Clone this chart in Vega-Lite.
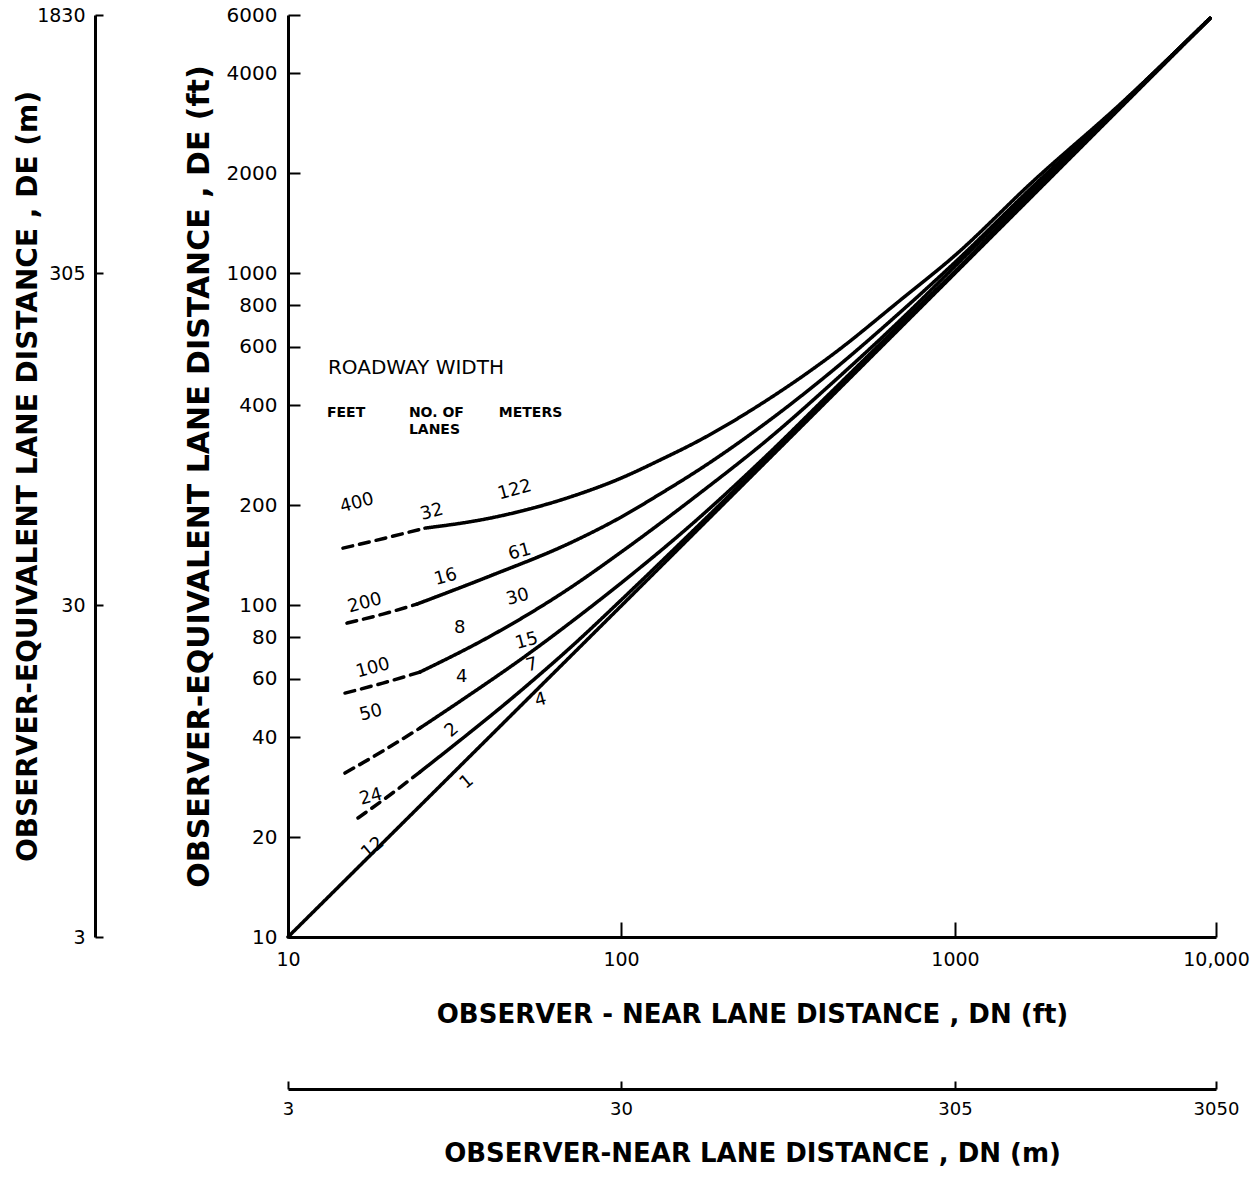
{
  "$schema": "https://vega.github.io/schema/vega-lite/v6.json",
  "autosize": "none",
  "padding": {"left": 288, "top": 15, "right": 40, "bottom": 246},
  "width": 928,
  "height": 922,
  "background": "white",
  "config": {
    "view": {"stroke": null},
    "font": "DejaVu Sans",
    "axis": {
      "grid": false,
      "domainColor": "black",
      "domainWidth": 3,
      "tickColor": "black",
      "tickWidth": 2,
      "labelColor": "black",
      "titleColor": "black",
      "labelFont": "DejaVu Sans",
      "titleFont": "DejaVu Sans",
      "titleFontWeight": "bold"
    }
  },
  "datasets": {
    "curves": [
      {"w": "400", "part": "dashed", "x": 14.62, "y": 148.5},
      {"w": "400", "part": "dashed", "x": 19.54, "y": 159.1},
      {"w": "400", "part": "dashed", "x": 25.77, "y": 170.6},
      {"w": "400", "part": "solid", "x": 25.77, "y": 170.6},
      {"w": "400", "part": "solid", "x": 40.36, "y": 182.8},
      {"w": "400", "part": "solid", "x": 70.15, "y": 211.5},
      {"w": "400", "part": "solid", "x": 100, "y": 241.3},
      {"w": "400", "part": "solid", "x": 130.6, "y": 273.4},
      {"w": "400", "part": "solid", "x": 172.2, "y": 314.1},
      {"w": "400", "part": "solid", "x": 273.5, "y": 414.5},
      {"w": "400", "part": "solid", "x": 431.5, "y": 570.2},
      {"w": "400", "part": "solid", "x": 685.5, "y": 829.3},
      {"w": "400", "part": "solid", "x": 1000, "y": 1132},
      {"w": "400", "part": "solid", "x": 1991, "y": 1893},
      {"w": "400", "part": "solid", "x": 4287, "y": 3228},
      {"w": "400", "part": "solid", "x": 9486, "y": 5864},

      {"w": "200", "part": "dashed", "x": 15.03, "y": 88.27},
      {"w": "200", "part": "dashed", "x": 19.27, "y": 93.96},
      {"w": "200", "part": "dashed", "x": 24.38, "y": 100.7},
      {"w": "200", "part": "solid", "x": 24.38, "y": 100.7},
      {"w": "200", "part": "solid", "x": 40.36, "y": 122.3},
      {"w": "200", "part": "solid", "x": 70.15, "y": 153.7},
      {"w": "200", "part": "solid", "x": 100, "y": 184.1},
      {"w": "200", "part": "solid", "x": 130.6, "y": 215.9},
      {"w": "200", "part": "solid", "x": 172.2, "y": 256.8},
      {"w": "200", "part": "solid", "x": 273.5, "y": 355.8},
      {"w": "200", "part": "solid", "x": 431.5, "y": 510.3},
      {"w": "200", "part": "solid", "x": 685.5, "y": 763.0},
      {"w": "200", "part": "solid", "x": 1000, "y": 1079},
      {"w": "200", "part": "solid", "x": 1991, "y": 1828},
      {"w": "200", "part": "solid", "x": 4287, "y": 3206},
      {"w": "200", "part": "solid", "x": 9486, "y": 5864},

      {"w": "100", "part": "dashed", "x": 14.83, "y": 54.32},
      {"w": "100", "part": "dashed", "x": 19.27, "y": 58.22},
      {"w": "100", "part": "dashed", "x": 24.89, "y": 62.84},
      {"w": "100", "part": "solid", "x": 24.89, "y": 62.84},
      {"w": "100", "part": "solid", "x": 39.54, "y": 79.55},
      {"w": "100", "part": "solid", "x": 70.15, "y": 112.5},
      {"w": "100", "part": "solid", "x": 100, "y": 144.4},
      {"w": "100", "part": "solid", "x": 172.2, "y": 217.4},
      {"w": "100", "part": "solid", "x": 273.5, "y": 314.1},
      {"w": "100", "part": "solid", "x": 431.5, "y": 469.6},
      {"w": "100", "part": "solid", "x": 685.5, "y": 721.9},
      {"w": "100", "part": "solid", "x": 1000, "y": 1050},
      {"w": "100", "part": "solid", "x": 1991, "y": 1803},
      {"w": "100", "part": "solid", "x": 4287, "y": 3206},
      {"w": "100", "part": "solid", "x": 9486, "y": 5864},

      {"w": "50", "part": "dashed", "x": 14.83, "y": 31.19},
      {"w": "50", "part": "dashed", "x": 19.27, "y": 36.34},
      {"w": "50", "part": "dashed", "x": 24.89, "y": 42.6},
      {"w": "50", "part": "solid", "x": 24.89, "y": 42.6},
      {"w": "50", "part": "solid", "x": 33.27, "y": 51.75},
      {"w": "50", "part": "solid", "x": 52.12, "y": 70.7},
      {"w": "50", "part": "solid", "x": 70.15, "y": 88.27},
      {"w": "50", "part": "solid", "x": 100, "y": 116.5},
      {"w": "50", "part": "solid", "x": 172.2, "y": 184.1},
      {"w": "50", "part": "solid", "x": 273.5, "y": 283.0},
      {"w": "50", "part": "solid", "x": 431.5, "y": 444.2},
      {"w": "50", "part": "solid", "x": 685.5, "y": 702.3},
      {"w": "50", "part": "solid", "x": 1000, "y": 1014},
      {"w": "50", "part": "solid", "x": 1991, "y": 1766},
      {"w": "50", "part": "solid", "x": 4287, "y": 3184},
      {"w": "50", "part": "solid", "x": 9486, "y": 5864},

      {"w": "24", "part": "dashed", "x": 16.22, "y": 22.83},
      {"w": "24", "part": "dashed", "x": 20.23, "y": 26.78},
      {"w": "24", "part": "dashed", "x": 24.89, "y": 31.41},
      {"w": "24", "part": "solid", "x": 24.89, "y": 31.41},
      {"w": "24", "part": "solid", "x": 53.21, "y": 58.22},
      {"w": "24", "part": "solid", "x": 70.15, "y": 74.2},
      {"w": "24", "part": "solid", "x": 100, "y": 103.5},
      {"w": "24", "part": "solid", "x": 172.2, "y": 175.4},
      {"w": "24", "part": "solid", "x": 273.5, "y": 277.2},
      {"w": "24", "part": "solid", "x": 431.5, "y": 438.1},
      {"w": "24", "part": "solid", "x": 685.5, "y": 692.6},
      {"w": "24", "part": "solid", "x": 1000, "y": 1007},
      {"w": "24", "part": "solid", "x": 1991, "y": 1754},
      {"w": "24", "part": "solid", "x": 4287, "y": 3162},
      {"w": "24", "part": "solid", "x": 9486, "y": 5864},

      {"w": "12", "part": "solid", "x": 10, "y": 10},
      {"w": "12", "part": "solid", "x": 1000, "y": 1000},
      {"w": "12", "part": "solid", "x": 1991, "y": 1718},
      {"w": "12", "part": "solid", "x": 4287, "y": 3141},
      {"w": "12", "part": "solid", "x": 9486, "y": 5864}
    ],
    "labels": [
      {"kind": "header", "text": "ROADWAY    WIDTH", "x": 13.18, "y": 517.6},
      {"kind": "sub", "text": "FEET", "x": 13.09, "y": 378.7},
      {"kind": "sub", "text": "NO. OF", "x": 23.07, "y": 378.7},
      {"kind": "sub", "text": "LANES", "x": 23.07, "y": 336.6},
      {"kind": "sub", "text": "METERS", "x": 42.96, "y": 378.7},
      {"kind": "tilt", "text": "400", "x": 16.11, "y": 202.8},
      {"kind": "tilt", "text": "200", "x": 17.02, "y": 101.4},
      {"kind": "tilt", "text": "100", "x": 17.99, "y": 64.6},
      {"kind": "tilt", "text": "50", "x": 17.74, "y": 47.3},
      {"kind": "tilt", "text": "24", "x": 17.74, "y": 26.4},
      {"kind": "diag", "text": "12", "x": 17.99, "y": 18.54},
      {"kind": "tilt", "text": "32", "x": 27.04, "y": 190.6},
      {"kind": "tilt", "text": "16", "x": 29.78, "y": 121.4},
      {"kind": "flat", "text": "8", "x": 32.81, "y": 85.3},
      {"kind": "flat", "text": "4", "x": 33.27, "y": 60.7},
      {"kind": "diag", "text": "2", "x": 31.05, "y": 42.0},
      {"kind": "diag", "text": "1", "x": 34.43, "y": 29.3},
      {"kind": "tilt", "text": "122", "x": 47.97, "y": 222.0},
      {"kind": "tilt", "text": "61", "x": 49.66, "y": 144.5},
      {"kind": "tilt", "text": "30", "x": 48.97, "y": 105.7},
      {"kind": "tilt", "text": "15", "x": 52.12, "y": 77.9},
      {"kind": "tilt", "text": "7", "x": 54.0, "y": 65.9},
      {"kind": "tilt", "text": "4", "x": 57.4, "y": 51.7}
    ]
  },
  "resolve": {"axis": {"x": "independent", "y": "independent"}},
  "layer": [
    {
      "data": {"name": "curves"},
      "mark": {"type": "line", "color": "black", "strokeWidth": 3.5, "strokeCap": "round", "interpolate": "monotone", "clip": false},
      "encoding": {
        "x": {
          "field": "x", "type": "quantitative",
          "scale": {"type": "log", "domain": [10, 100, 1000, 10000], "range": [0, 333, 667, 928], "nice": false},
          "axis": {
            "orient": "bottom",
            "values": [10, 100, 1000, 10000],
            "labelExpr": "datum.value == 10000 ? '10,000' : format(datum.value, 'd')",
            "tickSize": -15,
            "labelFontSize": 19,
            "labelPadding": 28,
            "labelFlush": false,
            "labelOverlap": false,
            "title": "OBSERVER - NEAR   LANE   DISTANCE ,  DN  (ft)",
            "titleFontSize": 26,
            "titlePadding": 32
          }
        },
        "y": {
          "field": "y", "type": "quantitative",
          "scale": {"type": "log", "domain": [10, 6000], "nice": false},
          "axis": {
            "orient": "left",
            "values": [10, 20, 40, 60, 80, 100, 200, 400, 600, 800, 1000, 2000, 4000, 6000],
            "format": "d",
            "tickSize": -12,
            "labelFontSize": 20,
            "labelPadding": 23,
            "labelFlush": false,
            "labelOverlap": false,
            "title": "OBSERVER-EQUIVALENT   LANE   DISTANCE ,  DE (ft)",
            "titleFontSize": 30,
            "titlePadding": 12
          }
        },
        "detail": {"field": "w"},
        "strokeDash": {
          "field": "part", "type": "nominal",
          "scale": {"domain": ["dashed", "solid"], "range": [[10, 7], [1, 0]]},
          "legend": null
        }
      }
    },
    {
      "data": {"name": "curves"},
      "transform": [{"filter": "datum.w == '12'"}],
      "mark": {"type": "line", "opacity": 0},
      "encoding": {
        "x": {
          "field": "x", "type": "quantitative",
          "scale": {"type": "log", "domain": [10, 100, 1000, 10000], "range": [0, 333, 667, 928], "nice": false},
          "axis": {
            "orient": "bottom",
            "offset": 152,
            "values": [10, 100, 1000, 10000],
            "labelExpr": "datum.value == 10 ? '3' : datum.value == 100 ? '30' : datum.value == 1000 ? '305' : '3050'",
            "tickSize": -8,
            "labelFontSize": 18,
            "labelPadding": 19,
            "labelFlush": false,
            "labelOverlap": false,
            "title": "OBSERVER-NEAR  LANE  DISTANCE ,  DN (m)",
            "titleFontSize": 26,
            "titlePadding": 22
          }
        },
        "y": {
          "field": "y", "type": "quantitative",
          "scale": {"type": "log", "domain": [10, 6000], "nice": false},
          "axis": {
            "orient": "left",
            "offset": 193,
            "values": [10, 100, 1000, 6000],
            "labelExpr": "datum.value == 10 ? '3' : datum.value == 100 ? '30' : datum.value == 1000 ? '305' : '1830'",
            "tickSize": -8,
            "labelFontSize": 19,
            "labelPadding": 18,
            "labelFlush": false,
            "labelOverlap": false,
            "title": "OBSERVER-EQUIVALENT  LANE  DISTANCE ,  DE (m)",
            "titleFontSize": 28,
            "titlePadding": -6
          }
        }
      }
    },
    {
      "data": {"name": "labels"},
      "transform": [{"filter": "datum.kind == 'header'"}],
      "mark": {"type": "text", "align": "left", "baseline": "middle", "fontSize": 20, "color": "black"},
      "encoding": {"x": {"field": "x", "type": "quantitative", "axis": null}, "y": {"field": "y", "type": "quantitative", "axis": null}, "text": {"field": "text"}}
    },
    {
      "data": {"name": "labels"},
      "transform": [{"filter": "datum.kind == 'sub'"}],
      "mark": {"type": "text", "align": "left", "baseline": "middle", "fontSize": 14, "fontWeight": "bold", "color": "black"},
      "encoding": {"x": {"field": "x", "type": "quantitative", "axis": null}, "y": {"field": "y", "type": "quantitative", "axis": null}, "text": {"field": "text"}}
    },
    {
      "data": {"name": "labels"},
      "transform": [{"filter": "datum.kind == 'tilt'"}],
      "mark": {"type": "text", "align": "center", "baseline": "middle", "fontSize": 18, "angle": -15, "color": "black"},
      "encoding": {"x": {"field": "x", "type": "quantitative", "axis": null}, "y": {"field": "y", "type": "quantitative", "axis": null}, "text": {"field": "text"}}
    },
    {
      "data": {"name": "labels"},
      "transform": [{"filter": "datum.kind == 'flat'"}],
      "mark": {"type": "text", "align": "center", "baseline": "middle", "fontSize": 18, "color": "black"},
      "encoding": {"x": {"field": "x", "type": "quantitative", "axis": null}, "y": {"field": "y", "type": "quantitative", "axis": null}, "text": {"field": "text"}}
    },
    {
      "data": {"name": "labels"},
      "transform": [{"filter": "datum.kind == 'diag'"}],
      "mark": {"type": "text", "align": "center", "baseline": "middle", "fontSize": 18, "angle": -40, "color": "black"},
      "encoding": {"x": {"field": "x", "type": "quantitative", "axis": null}, "y": {"field": "y", "type": "quantitative", "axis": null}, "text": {"field": "text"}}
    }
  ]
}
